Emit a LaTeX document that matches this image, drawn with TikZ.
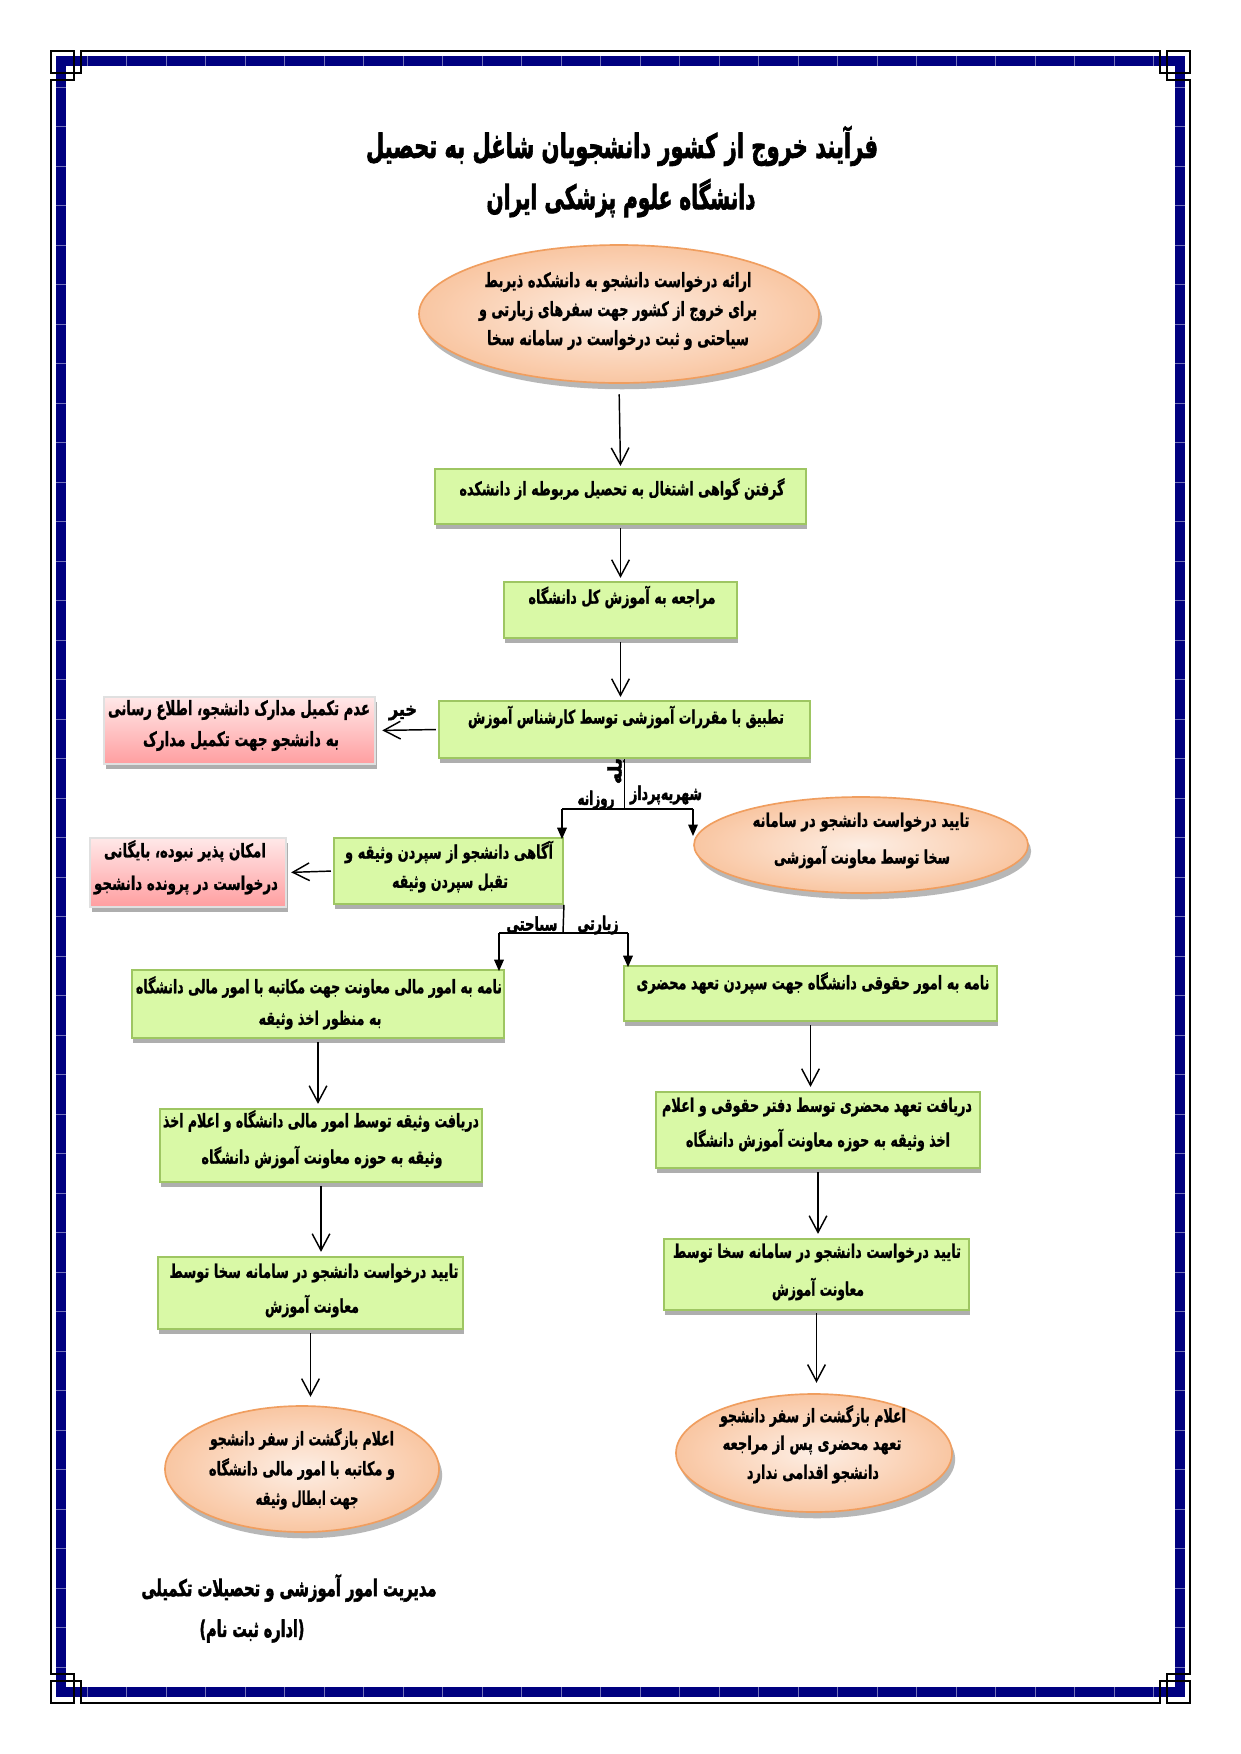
\documentclass[tikz,border=0pt]{standalone}
\usepackage{fontspec}
\usepackage{graphicx}
\usetikzlibrary{shapes.geometric,arrows.meta,shadows}
\TeXXeTstate=1
\newfontfamily\fa[Script=Arabic, BoldFeatures={FakeBold=1.2}]{DejaVu Sans}
\newfontfamily\fat[Script=Arabic, BoldFeatures={FakeBold=2.5}]{DejaVu Sans}
\newdimen\pxu \pxu=0.48pt
\newcommand\rl[2]{\resizebox{#1\pxu}{\height}{#2}}
\definecolor{navyb}{RGB}{0,0,128}
\definecolor{gfill}{RGB}{217,249,166}
\definecolor{gdraw}{RGB}{158,198,98}
\definecolor{pktop}{RGB}{255,232,232}
\definecolor{pkbot}{RGB}{255,158,160}
\definecolor{peachin}{RGB}{253,238,228}
\definecolor{peachout}{RGB}{249,198,162}
\definecolor{peachdraw}{RGB}{240,158,95}
\tikzset{
  gbox/.style={draw=gdraw, line width=0.9pt, fill=gfill, inner sep=0pt,
    drop shadow={shadow xshift=0.6pt, shadow yshift=-2.6pt, opacity=0.45, fill=black!70}},
  pbox/.style={draw=black!12, line width=1pt, top color=pktop, bottom color=pkbot, inner sep=0pt,
    drop shadow={shadow xshift=1pt, shadow yshift=-2.2pt, opacity=0.45, fill=black!70}},
  oval/.style={ellipse, draw=peachdraw, line width=0.8pt, inner color=peachin, outer color=peachout, inner sep=0pt,
    drop shadow={shadow xshift=1.5pt, shadow yshift=-3pt, opacity=0.4, fill=black!70}},
  btxt/.style={inner sep=0pt, font=\fa\bfseries\fontsize{9}{11}\selectfont},
  etxt/.style={inner sep=0pt, font=\fa\bfseries\fontsize{9.5}{11}\selectfont},
  ttxt/.style={inner sep=0pt, font=\fat\bfseries\fontsize{16}{18}\selectfont},
  ftxt/.style={inner sep=0pt, font=\fat\bfseries\fontsize{11}{13}\selectfont},
  ltxt/.style={inner sep=0pt, font=\fat\bfseries\fontsize{9}{10}\selectfont},
  varrow/.style={-{Straight Barb[length=8pt,width=8.5pt,line width=0.7pt]}, line width=0.7pt, black},
  farrow/.style={-{Triangle[length=5.5pt,width=4.6pt]}, line width=0.7pt, black},
  bline/.style={line width=0.7pt, black},
  bk/.style={black, line width=1.05pt},
}
\begin{document}
\begin{tikzpicture}[x=0.48pt,y=-0.48pt]
\useasboundingbox (0,0) rectangle (1241,1754);
\fill[white] (0,0) rectangle (1241,1754);
% ---- page border ----
\draw[navyb, line width=4.8pt] (61,61) rectangle (1180,1692);
\foreach \t in {87,126.5,...,1160}{
  \draw[navyb!55!white, line width=0.25pt] (\t,56) -- (\t,66);
  \draw[navyb!55!white, line width=0.25pt] (\t,1687) -- (\t,1697);
}
\foreach \t in {87,126.5,...,1670}{
  \draw[navyb!55!white, line width=0.25pt] (56,\t) -- (66,\t);
  \draw[navyb!55!white, line width=0.25pt] (1175,\t) -- (1185,\t);
}
\draw[bk] (67,73) -- (81,73) -- (81,51) -- (1160,51) -- (1160,73) -- (1174,73);
\draw[bk] (67,1681) -- (81,1681) -- (81,1703) -- (1160,1703) -- (1160,1681) -- (1174,1681);
\draw[bk] (74,73) -- (74,80) -- (51,80) -- (51,1674) -- (74,1674) -- (74,1681);
\draw[bk] (1167,73) -- (1167,80) -- (1190,80) -- (1190,1674) -- (1167,1674) -- (1167,1681);
\draw[bk] (51,51) rectangle (74,73);
\draw[bk] (1167,51) rectangle (1190,73);
\draw[bk] (51,1681) rectangle (74,1703);
\draw[bk] (1167,1681) rectangle (1190,1703);
% ---- title ----
\node[ttxt] (title1) at (622,146) {\rl{512}{\beginR فرآیند خروج از کشور دانشجویان شاغل به تحصیل\endR}};
\node[ttxt] (title2) at (621,198) {\rl{269}{\beginR دانشگاه علوم پزشکی ایران\endR}};
% ---- shapes ----
\node[oval, minimum width=400*0.48pt, minimum height=138*0.48pt] (T) at (619,314) {};
\node[gbox, minimum width=371*0.48pt, minimum height=55*0.48pt] (A) at (620.5,496.5) {};
\node[gbox, minimum width=233*0.48pt, minimum height=56*0.48pt] (B) at (620.5,610) {};
\node[gbox, minimum width=371*0.48pt, minimum height=57*0.48pt] (C) at (624.5,729.5) {};
\node[pbox, minimum width=271*0.48pt, minimum height=67*0.48pt] (D) at (239.5,730.5) {};
\node[oval, minimum width=334*0.48pt, minimum height=96*0.48pt] (F) at (861,845) {};
\node[gbox, minimum width=229*0.48pt, minimum height=66*0.48pt] (E) at (448.5,871) {};
\node[pbox, minimum width=196*0.48pt, minimum height=69*0.48pt] (G) at (188,872.5) {};
\node[gbox, minimum width=372*0.48pt, minimum height=68*0.48pt] (H) at (318,1004) {};
\node[gbox, minimum width=373*0.48pt, minimum height=55*0.48pt] (I) at (810.5,993.5) {};
\node[gbox, minimum width=322*0.48pt, minimum height=73*0.48pt] (J) at (321,1145.5) {};
\node[gbox, minimum width=305*0.48pt, minimum height=72*0.48pt] (K) at (310.5,1293) {};
\node[oval, minimum width=274*0.48pt, minimum height=126*0.48pt] (L) at (302,1469) {};
\node[gbox, minimum width=324*0.48pt, minimum height=76*0.48pt] (M) at (818,1130) {};
\node[gbox, minimum width=305*0.48pt, minimum height=71*0.48pt] (N) at (816.5,1274.5) {};
\node[oval, minimum width=276*0.48pt, minimum height=118*0.48pt] (O) at (814,1453) {};
% ---- texts ----
\node[etxt] (t1) at (618,282) {\rl{267}{\beginR ارائه درخواست دانشجو به دانشکده ذیربط\endR}};
\node[etxt] (t2) at (618,311) {\rl{278}{\beginR برای خروج از کشور جهت سفرهای زیارتی و\endR}};
\node[etxt] (t3) at (618,340) {\rl{262}{\beginR سیاحتی و ثبت درخواست در سامانه سخا\endR}};
\node[btxt] (a1) at (622,489) {\rl{325}{\beginR گرفتن گواهی اشتغال به تحصیل مربوطه از دانشکده\endR}};
\node[btxt] (b1) at (622,597) {\rl{187}{\beginR مراجعه به آموزش کل دانشگاه\endR}};
\node[btxt] (c1) at (626,717) {\rl{316}{\beginR تطبیق با مقررات آموزشی توسط کارشناس آموزش\endR}};
\node[etxt] (d1) at (239,710) {\rl{262}{\beginR عدم تکمیل مدارک دانشجو، اطلاع رسانی\endR}};
\node[etxt] (d2) at (241,741) {\rl{196}{\beginR به دانشجو جهت تکمیل مدارک\endR}};
\node[btxt] (f1) at (861,822) {\rl{217}{\beginR تایید درخواست دانشجو در سامانه\endR}};
\node[btxt] (f2) at (862,857) {\rl{176}{\beginR سخا توسط معاونت آموزشی\endR}};
\node[btxt] (e1) at (449,852) {\rl{208}{\beginR آگاهی دانشجو از سپردن وثیقه و\endR}};
\node[btxt] (e2) at (450,883) {\rl{116}{\beginR تقبل سپردن وثیقه\endR}};
\node[btxt] (g1) at (185,851) {\rl{162}{\beginR امکان پذیر نبوده، بایگانی\endR}};
\node[btxt] (g2) at (186,885) {\rl{184}{\beginR درخواست در پرونده دانشجو\endR}};
\node[btxt] (h1) at (319,987) {\rl{366}{\beginR نامه به امور مالی معاونت جهت مکاتبه با امور مالی دانشگاه\endR}};
\node[btxt] (h2) at (320,1020) {\rl{123}{\beginR به منظور اخذ وثیقه\endR}};
\node[btxt] (i1) at (813,983) {\rl{353}{\beginR نامه به امور حقوقی دانشگاه جهت سپردن تعهد محضری\endR}};
\node[btxt] (j1) at (321,1121) {\rl{316}{\beginR دریافت وثیقه توسط امور مالی دانشگاه و اعلام اخذ\endR}};
\node[btxt] (j2) at (322,1157) {\rl{241}{\beginR وثیقه به حوزه معاونت آموزش دانشگاه\endR}};
\node[btxt] (k1) at (314,1273) {\rl{289}{\beginR تایید درخواست دانشجو در سامانه سخا توسط\endR}};
\node[btxt] (k2) at (312,1306) {\rl{94}{\beginR معاونت آموزش\endR}};
\node[btxt] (l1) at (302,1439) {\rl{184}{\beginR اعلام بازگشت از سفر دانشجو\endR}};
\node[btxt] (l2) at (302,1469) {\rl{186}{\beginR و مکاتبه با امور مالی دانشگاه\endR}};
\node[btxt] (l3) at (307,1500) {\rl{103}{\beginR جهت ابطال وثیقه\endR}};
\node[btxt] (m1) at (817,1107) {\rl{310}{\beginR دریافت تعهد محضری توسط دفتر حقوقی و اعلام\endR}};
\node[btxt] (m2) at (818,1140) {\rl{264}{\beginR اخذ وثیقه به حوزه معاونت آموزش دانشگاه\endR}};
\node[btxt] (n1) at (817,1253) {\rl{288}{\beginR تایید درخواست دانشجو در سامانه سخا توسط\endR}};
\node[btxt] (n2) at (818,1289) {\rl{92}{\beginR معاونت آموزش\endR}};
\node[btxt] (o1) at (813,1416) {\rl{186}{\beginR اعلام بازگشت از سفر دانشجو\endR}};
\node[btxt] (o2) at (812,1445) {\rl{179}{\beginR تعهد محضری پس از مراجعه\endR}};
\node[btxt] (o3) at (813,1474) {\rl{132}{\beginR دانشجو اقدامی ندارد\endR}};
\node[ftxt] (foot1) at (289,1588) {\rl{295}{\beginR مدیریت امور آموزشی و تحصیلات تکمیلی\endR}};
\node[ftxt] (foot2) at (252,1631) {\rl{105}{\beginR (اداره ثبت نام)\endR}};
% ---- branch labels ----
\node[ltxt] (no) at (403,713) {\rl{28}{\beginR خیر\endR}};
\node[ltxt, rotate=90] (yes) at (616,771) {\beginR بله\endR};
\node[ltxt] (lrz) at (596,800) {\rl{37}{\beginR روزانه\endR}};
\node[ltxt] (lsh) at (666,795) {\rl{72}{\beginR شهریه‌پرداز\endR}};
\node[ltxt] (lsy) at (532,925) {\rl{51}{\beginR سیاحتی\endR}};
\node[ltxt] (lzy) at (598,925) {\rl{41}{\beginR زیارتی\endR}};
% ---- connectors ----
\draw[varrow, shorten <=5pt, shorten >=1pt] (T.south) -- (A.north);
\draw[varrow, shorten <=1.5pt, shorten >=1.5pt] (A.south) -- (A.south |- B.north);
\draw[varrow, shorten <=1.5pt, shorten >=1.5pt] (B.south) -- (C.north -| B.south);
\draw[varrow, shorten <=1pt, shorten >=3pt] (C.west) -- (D.east);
\coordinate (y1) at (624.5,809);
\coordinate (y1l) at (562,809);
\coordinate (y1r) at (693,809);
\coordinate (fin) at (693,836);
\draw[bline] (C.south) -- (y1);
\draw[bline] (y1l) -- (y1r);
\draw[farrow] (y1l) -- ([yshift=-1pt]y1l |- E.north);
\draw[farrow] (y1r) -- (fin);
\draw[varrow, shorten <=1pt, shorten >=2pt] (E.west) -- (G.east);
\coordinate (y2) at (563,933);
\coordinate (y2l) at (499,933);
\coordinate (y2r) at (628,933);
\draw[bline] (E.south east) -- (y2);
\draw[bline] (y2l) -- (y2r);
\draw[farrow] (y2l) -- ([yshift=-1pt]y2l |- H.north);
\draw[farrow] (y2r) -- ([yshift=-1pt]y2r |- I.north);
\draw[varrow, shorten <=1.5pt, shorten >=2pt] (H.south) -- (H.south |- J.north);
\draw[varrow, shorten <=1.5pt, shorten >=2pt] (J.south) -- (J.south |- K.north);
\draw[varrow, shorten <=1.5pt, shorten >=4pt] (K.south) -- (K.south |- L.north);
\draw[varrow, shorten <=1.5pt, shorten >=2pt] (I.south) -- (I.south |- M.north);
\draw[varrow, shorten <=1.5pt, shorten >=2pt] (M.south) -- (M.south |- N.north);
\draw[varrow, shorten <=1pt, shorten >=5pt] (N.south) -- (N.south |- O.north);
\end{tikzpicture}
\end{document}
